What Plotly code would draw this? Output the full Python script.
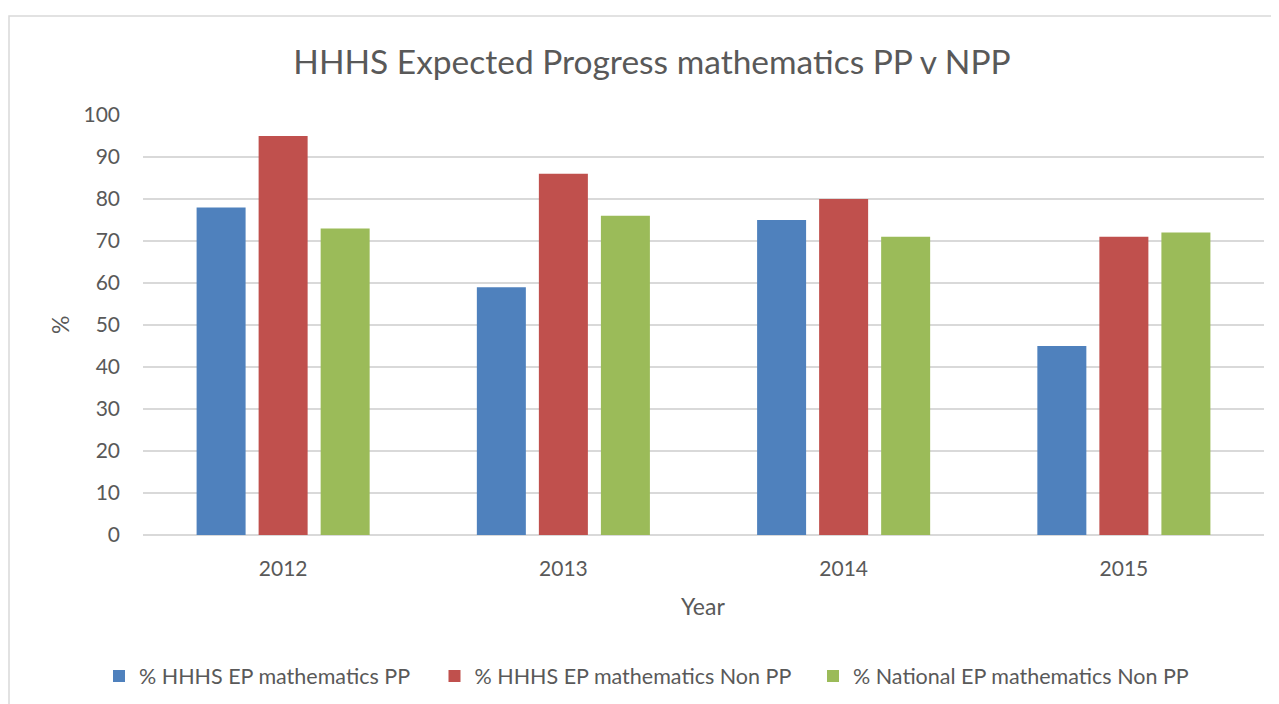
import plotly.graph_objects as go

years = ["2012", "2013", "2014", "2015"]
pp = [78, 59, 75, 45]
non_pp = [95, 86, 80, 71]
national = [73, 76, 71, 72]
series_names = ["% HHHS EP mathematics PP", "% HHHS EP mathematics Non PP", "% National EP mathematics Non PP"]
colors = ["#4F81BD", "#C0504D", "#9BBB59"]

font = "Lato, Open Sans, sans-serif"
txt = "#595959"

W, H = 1271, 696
L, R, T, B = 135, 15, 107, 169
PW, PH = W - L - R, H - T - B

def px(xf):
    return (xf - L) / PW

def py(yf):
    return (H - B - yf) / PH

legend_keys = ["legend", "legend2", "legend3"]
legend_x = [91, 426.5, 805]

fig = go.Figure()
for name, vals, c, lk in zip(series_names, [pp, non_pp, national], colors, legend_keys):
    fig.add_trace(go.Bar(x=years, y=vals, name=name, marker_color=c, marker_line_width=0,
                         legend=lk, showlegend=True))

legend_common = dict(orientation="h", yanchor="middle", xanchor="left",
                     xref="container", yref="container",
                     font=dict(size=21.5, color=txt, family=font), itemwidth=30,
                     bgcolor="rgba(0,0,0,0)")

layout_legends = {}
for lk, lx in zip(legend_keys, legend_x):
    layout_legends[lk] = dict(legend_common, x=lx / W, y=1 - 668 / H)

fig.update_layout(
    width=W, height=H,
    showlegend=True,
    paper_bgcolor="white", plot_bgcolor="white",
    margin=dict(l=L, r=R, t=T, b=B),
    barmode="group", bargap=0.336, bargroupgap=0.21,
    font=dict(family=font, color=txt, size=20),
    title=dict(text="HHHS Expected Progress mathematics PP v NPP", x=644 / W, xanchor="center",
               y=1 - 54/H, yanchor="middle", font=dict(size=33.5, color=txt, family=font)),
    xaxis=dict(tickfont=dict(size=21, color=txt), showgrid=False, showline=False, ticks="",
               ticklabelstandoff=19),
    yaxis=dict(range=[0, 100], dtick=10, tickfont=dict(size=21, color=txt),
               showgrid=True, gridcolor="#D9D9D9", gridwidth=1.5, zeroline=True,
               zerolinecolor="#D9D9D9", zerolinewidth=1.5, ticks="", ticklabelstandoff=22),
    annotations=[
        dict(text="Year", xref="paper", yref="paper", x=px(695), y=py(598),
             xanchor="center", yanchor="middle", showarrow=False, font=dict(size=23, color=txt)),
        dict(text="%", xref="paper", yref="paper", x=px(52), y=0.5, textangle=-90,
             xanchor="center", yanchor="middle", showarrow=False, font=dict(size=23, color=txt)),
    ],
    shapes=[dict(type="rect", xref="paper", yref="paper",
                 x0=px(1), x1=px(W + 10), y0=py(H + 10), y1=py(8),
                 line=dict(color="#D9D9D9", width=1.5), fillcolor="rgba(0,0,0,0)", layer="below")],
    **layout_legends,
)

fig.write_html("out.html")
